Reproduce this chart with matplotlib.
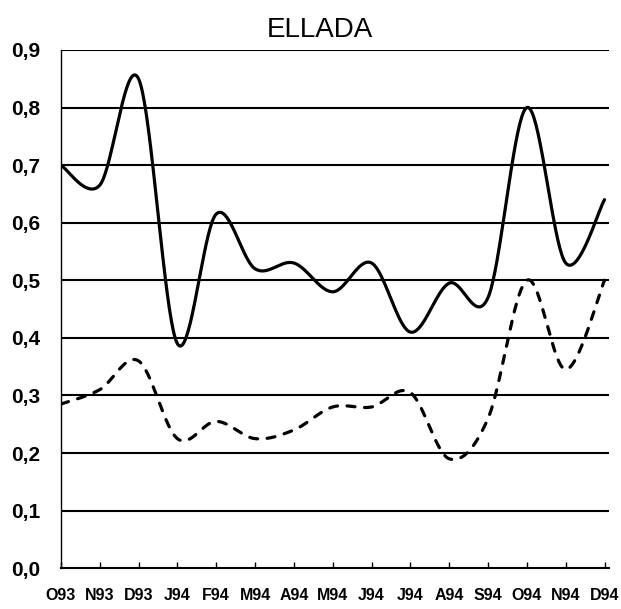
import numpy as np
import matplotlib
matplotlib.use("Agg")
import matplotlib.pyplot as plt

months = ["O93", "N93", "D93", "J94", "F94", "M94", "A94", "M94",
          "J94", "J94", "A94", "S94", "O94", "N94", "D94"]
solid_vals = [0.70, 0.665, 0.85, 0.39, 0.615, 0.52, 0.53, 0.48,
              0.53, 0.41, 0.495, 0.47, 0.80, 0.53, 0.64]
dashed_vals = [0.285, 0.31, 0.36, 0.225, 0.255, 0.225, 0.24, 0.28,
               0.28, 0.305, 0.19, 0.26, 0.50, 0.345, 0.50]
yticks = [0.0, 0.1, 0.2, 0.3, 0.4, 0.5, 0.6, 0.7, 0.8, 0.9]
ytick_labels = ["0,0", "0,1", "0,2", "0,3", "0,4", "0,5", "0,6", "0,7", "0,8", "0,9"]
title = "ELLADA"


def smooth(xs, ys, n=40):
    """Excel-style smoothed line (Catmull-Rom via cubic Bezier)."""
    xs = np.asarray(xs, float)
    ys = np.asarray(ys, float)
    P = np.column_stack([xs, ys])
    out = []
    for i in range(len(P) - 1):
        p0 = P[i - 1] if i > 0 else P[i]
        p1 = P[i]
        p2 = P[i + 1]
        p3 = P[i + 2] if i + 2 < len(P) else P[i + 1]
        c1 = p1 + (p2 - p0) / 6.0
        c2 = p2 - (p3 - p1) / 6.0
        t = np.linspace(0, 1, n)[:, None]
        seg = ((1 - t) ** 3) * p1 + 3 * ((1 - t) ** 2) * t * c1 + 3 * (1 - t) * t ** 2 * c2 + t ** 3 * p2
        if i > 0:
            seg = seg[1:]
        out.append(seg)
    out = np.vstack(out)
    return out[:, 0], out[:, 1]


plt.rcParams['font.family'] = ['Liberation Sans', 'DejaVu Sans']
fig = plt.figure(figsize=(6.21, 6.09), dpi=100)
ax = fig.add_axes([0.098, 0.067, 0.883, 0.851])

x = np.arange(len(months))
for yv in yticks[1:]:
    ax.axhline(yv, color='black', lw=1.5, zorder=1)

sx, sy = smooth(x, solid_vals)
ax.plot(sx, sy, color='black', lw=2.3, solid_capstyle='round', zorder=3)
dx, dy = smooth(x, dashed_vals)
ax.plot(dx, dy, color='black', lw=2.3, linestyle=(0, (2.5, 3.0)), dash_capstyle='round', zorder=3)

ax.set_xlim(0, len(months) - 1 + 0.12)
ax.set_ylim(0, 0.9)
ax.set_yticks(yticks)
ax.set_yticklabels(ytick_labels, fontsize=15, fontweight='bold')
ax.set_xticks(x)
ax.set_xticklabels(months, fontsize=11.5, fontweight='bold')
ax.tick_params(axis='y', length=0, pad=15)
ax.tick_params(axis='x', direction='in', length=4, width=1, pad=14)

for s in ['top', 'right']:
    ax.spines[s].set_visible(False)
ax.spines['left'].set_linewidth(1.0)
ax.spines['bottom'].set_linewidth(1.5)

fig.text(0.515, 0.95, title, ha='center', va='center', fontsize=20)

fig.savefig("out.png", dpi=100)
